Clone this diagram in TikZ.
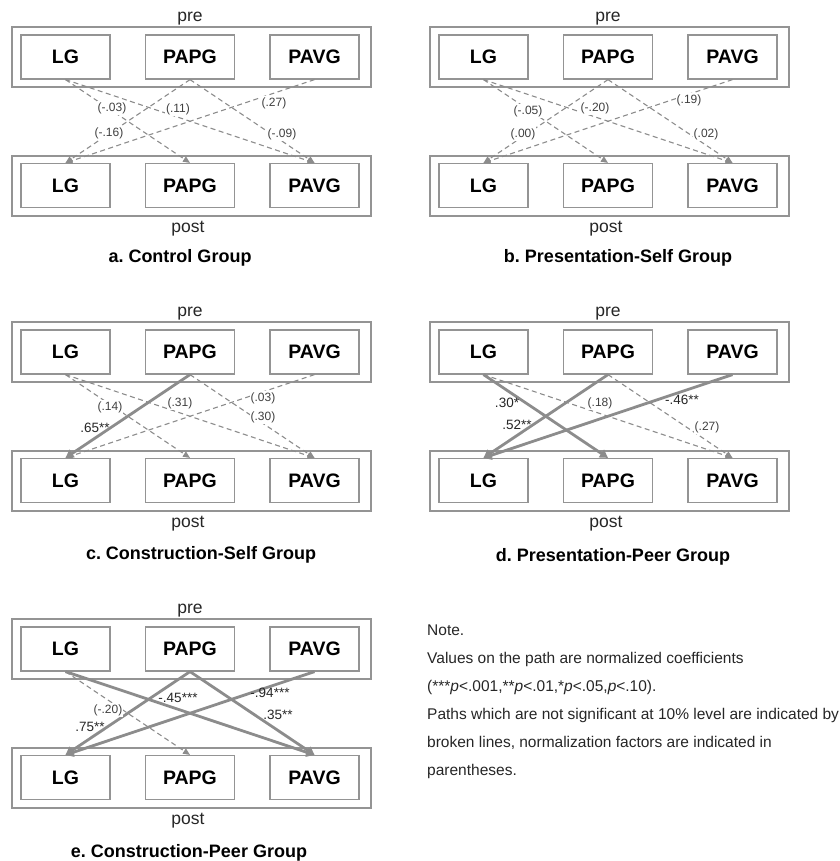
\documentclass[tikz,border=0pt]{standalone}
\usepackage{fontspec}
\setmainfont{Liberation Sans}
\usetikzlibrary{arrows.meta,positioning}
\colorlet{frm}{black!42}
\colorlet{pth}{black!45}
\tikzset{
  outerbox/.style={draw=frm,line width=1.6pt,minimum width=359pt,minimum height=60pt,inner sep=0pt},
  varbox/.style={draw=frm,line width=1.2pt,fill=white,minimum width=89pt,minimum height=44pt,inner sep=0pt,font=\fontsize{19.5}{22}\selectfont\bfseries},
  ns/.style={pth,line width=1.1pt,dash pattern=on 5pt off 3.5pt,-{Triangle[length=7pt,width=6pt]}},
  sig/.style={pth,line width=2.8pt,-{Triangle[length=8pt,width=9pt]}},
  nscoef/.style={fill=white,inner sep=1pt,text=black!75,font=\fontsize{12}{14}\selectfont},
  sigcoef/.style={inner sep=1pt,text=black!85,font=\fontsize{13.5}{15}\selectfont},
  tag/.style={inner sep=0pt,text=black!85,font=\fontsize{17.5}{20}\selectfont},
  title/.style={inner sep=0pt,font=\fontsize{18}{21}\selectfont\bfseries},
}
% pre / post frame of one group
\newcommand{\prepostframe}[1]{%
  \node[outerbox] (#1-pre) at (191.5,57) {};
  \node[outerbox] (#1-post) at (191.5,186) {};
  \foreach \v/\x in {LG/65.5,PAPG/190,PAVG/314.5} {
    \node[varbox] (#1-pre-\v) at (\x,57) {\v};
    \node[varbox] (#1-post-\v) at (\x,185.5) {\v};
  }
  \node[tag] (#1-pretag) at (190,19) {pre};
  \node[tag] (#1-posttag) at (188,229) {post};
}

\begin{document}
\begin{tikzpicture}[x=1pt,y=-1pt]
  \useasboundingbox (0,0) rectangle (839,861);

  % a. control
  \begin{scope}
    \prepostframe{a}
    \draw[ns] (a-pre-LG.south) -- (a-post-PAPG.north);
    \draw[ns] (a-pre-LG.south) -- (a-post-PAVG.north);
    \draw[ns] (a-pre-PAPG.south) -- (a-post-LG.north);
    \draw[ns] (a-pre-PAPG.south) -- (a-post-PAVG.north);
    \draw[ns] (a-pre-PAVG.south) -- (a-post-LG.north);
    \node[nscoef] (a-c1) at (112,108) {(-.03)};
    \node[nscoef] (a-c2) at (178,109) {(.11)};
    \node[nscoef] (a-c3) at (109,133) {(-.16)};
    \node[nscoef] (a-c4) at (274,103) {(.27)};
    \node[nscoef] (a-c5) at (282,134) {(-.09)};
    \node[title] (a-title) at (180,258) {a.\ Control Group};
  \end{scope}

  % b. presentation-self
  \begin{scope}[shift={(418,0)}]
    \prepostframe{b}
    \draw[ns] (b-pre-LG.south) -- (b-post-PAPG.north);
    \draw[ns] (b-pre-LG.south) -- (b-post-PAVG.north);
    \draw[ns] (b-pre-PAPG.south) -- (b-post-LG.north);
    \draw[ns] (b-pre-PAPG.south) -- (b-post-PAVG.north);
    \draw[ns] (b-pre-PAVG.south) -- (b-post-LG.north);
    \node[nscoef] (b-c1) at (110,111) {(-.05)};
    \node[nscoef] (b-c2) at (177,108) {(-.20)};
    \node[nscoef] (b-c3) at (105,134) {(.00)};
    \node[nscoef] (b-c4) at (271,100) {(.19)};
    \node[nscoef] (b-c5) at (288,134) {(.02)};
    \node[title] (b-title) at (200,258) {b.\ Presentation-Self Group};
  \end{scope}

  % c. construction-self
  \begin{scope}[shift={(0,295)}]
    \prepostframe{c}
    \draw[ns] (c-pre-LG.south) -- (c-post-PAPG.north);
    \draw[ns] (c-pre-LG.south) -- (c-post-PAVG.north);
    \draw[ns] (c-pre-PAPG.south) -- (c-post-PAVG.north);
    \draw[ns] (c-pre-PAVG.south) -- (c-post-LG.north);
    \draw[sig] (c-pre-PAPG.south) -- (c-post-LG.north);
    \node[nscoef] (c-c1) at (110,112) {(.14)};
    \node[nscoef] (c-c2) at (180,108) {(.31)};
    \node[nscoef] (c-c3) at (263,103) {(.03)};
    \node[nscoef] (c-c4) at (263,122) {(.30)};
    \node[sigcoef] (c-c5) at (95,133) {.65**};
    \node[title] (c-title) at (201,260) {c.\ Construction-Self Group};
  \end{scope}

  % d. presentation-peer
  \begin{scope}[shift={(418,295)}]
    \prepostframe{d}
    \draw[ns] (d-pre-LG.south) -- (d-post-PAVG.north);
    \draw[ns] (d-pre-PAPG.south) -- (d-post-PAVG.north);
    \draw[sig] (d-pre-LG.south) -- (d-post-PAPG.north);
    \draw[sig] (d-pre-PAPG.south) -- (d-post-LG.north);
    \draw[sig] (d-pre-PAVG.south) -- (d-post-LG.north);
    \node[sigcoef] (d-c1) at (89,108) {.30*};
    \node[sigcoef] (d-c2) at (99,130) {.52**};
    \node[nscoef] (d-c3) at (182,108) {(.18)};
    \node[sigcoef] (d-c4) at (264,105) {-.46**};
    \node[nscoef] (d-c5) at (289,132) {(.27)};
    \node[title] (d-title) at (195,262) {d.\ Presentation-Peer Group};
  \end{scope}

  % e. construction-peer
  \begin{scope}[shift={(0,592)}]
    \prepostframe{e}
    \draw[ns] (e-pre-LG.south) -- (e-post-PAPG.north);
    \draw[sig] (e-pre-LG.south) -- (e-post-PAVG.north);
    \draw[sig] (e-pre-PAPG.south) -- (e-post-LG.north);
    \draw[sig] (e-pre-PAPG.south) -- (e-post-PAVG.north);
    \draw[sig] (e-pre-PAVG.south) -- (e-post-LG.north);
    \node[nscoef] (e-c1) at (108,118) {(-.20)};
    \node[sigcoef] (e-c2) at (90,135) {.75**};
    \node[sigcoef] (e-c3) at (178,106) {-.45***};
    \node[sigcoef] (e-c4) at (270,101) {-.94***};
    \node[sigcoef] (e-c5) at (278,123) {.35**};
    \node[title] (e-title) at (189,261) {e.\ Construction-Peer Group};
  \end{scope}

  % note
  \node[anchor=north west,inner sep=0pt,align=left,text=black!85,
        font=\fontsize{15.5}{28}\selectfont] (note) at (427,625)
    {Note.\\
     Values on the path are normalized coefficients\\
     (***\textit{p}<.001,**\textit{p}<.01,*\textit{p}<.05,\textit{p}<.10).\\
     Paths which are not significant at 10\% level are indicated by\\
     broken lines,  normalization factors are indicated in\\
     parentheses.};
\end{tikzpicture}
\end{document}
